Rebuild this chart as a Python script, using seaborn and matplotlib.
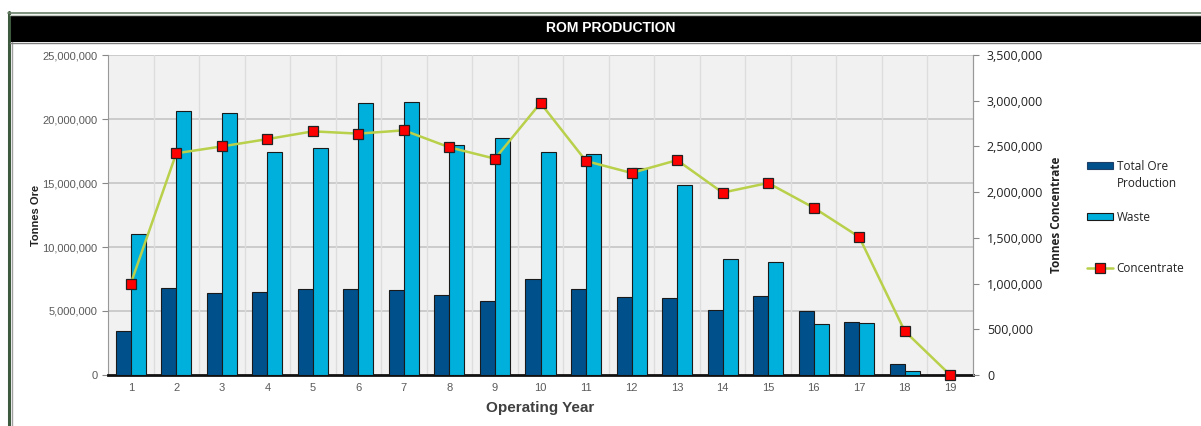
import numpy as np
import pandas as pd
import matplotlib
matplotlib.use("Agg")
import matplotlib.pyplot as plt
import seaborn as sns
from matplotlib.patches import Rectangle, Patch
from matplotlib.lines import Line2D
from matplotlib.ticker import FuncFormatter, FixedLocator, MultipleLocator

years = [str(i) for i in range(1, 20)]
ore = [3.46e6, 6.82e6, 6.41e6, 6.48e6, 6.69e6, 6.69e6, 6.61e6, 6.28e6, 5.78e6, 7.50e6,
       6.69e6, 6.07e6, 5.99e6, 5.10e6, 6.15e6, 4.97e6, 4.17e6, 0.83e6, 0.0]
waste = [11.0e6, 20.6e6, 20.5e6, 17.4e6, 17.7e6, 21.25e6, 21.3e6, 18.0e6, 18.5e6, 17.4e6,
         17.24e6, 16.15e6, 14.84e6, 9.06e6, 8.8e6, 4.0e6, 4.06e6, 0.29e6, 0.0]
concentrate = [1.00e6, 2.425e6, 2.50e6, 2.58e6, 2.665e6, 2.64e6, 2.676e6, 2.49e6, 2.366e6, 2.975e6,
               2.34e6, 2.21e6, 2.35e6, 1.995e6, 2.10e6, 1.83e6, 1.51e6, 0.48e6, 0.0]
series_names = ["Total Ore Production", "Waste"]
legend_labels = ["Total Ore", "Waste", "Concentrate"]
legend_label_cont = "Production"

ORE_C = "#00508C"
WASTE_C = "#00B0DC"
LINE_C = "#B8D04A"

sns.set_style("white")
plt.rcParams["font.family"] = ["Liberation Sans", "DejaVu Sans"]
LEG_FONT = ["Open Sans", "DejaVu Sans"]

W, H = 1201, 426
fig = plt.figure(figsize=(W / 100, H / 100), dpi=100)
ax = fig.add_axes([108 / W, 1 - 375 / H, 865 / W, 320 / H])
ax.set_facecolor("#F1F1F1")

df = pd.DataFrame({
    "Year": years * 2,
    "Tonnes": ore + waste,
    "Series": [series_names[0]] * len(years) + [series_names[1]] * len(years),
})
sns.barplot(data=df, x="Year", y="Tonnes", hue="Series", order=years,
            hue_order=series_names, palette=[ORE_C, WASTE_C], width=0.66,
            gap=0, edgecolor="#1a1a1a", linewidth=0.8, saturation=1,
            legend=False, ax=ax, zorder=3)

ax.set_xlim(-0.5, 18.5)
ax.set_ylim(0, 25e6)
ax.yaxis.set_major_locator(MultipleLocator(5e6))
ax.yaxis.set_major_formatter(FuncFormatter(lambda v, p: f"{v:,.0f}"))
ax.xaxis.set_minor_locator(FixedLocator(np.arange(-0.5, 19, 1.0)))
ax.grid(False)
for yv in np.arange(5e6, 26e6, 5e6):
    ax.axhline(yv, color="#CBCBCB", lw=1.4, zorder=1)
for xv in np.arange(0.5, 18.5, 1.0):
    ax.axvline(xv, color="#DDDDDD", lw=1.0, zorder=1)

ax.tick_params(axis="x", which="major", length=0, labelsize=8, colors="#5A5A5A", pad=6)
ax.tick_params(axis="x", which="minor", length=4, width=1.2, color="#222222", direction="out")
ax.tick_params(axis="y", which="major", length=4, width=0.8, color="#888888",
               labelsize=8, labelcolor="#5A5A5A", direction="out", left=True)
ax.spines["top"].set_visible(False)
ax.spines["left"].set_color("#999999")
ax.spines["left"].set_linewidth(0.8)
ax.spines["right"].set_color("#999999")
ax.spines["right"].set_linewidth(0.8)
ax.spines["bottom"].set_color("#111111")
ax.spines["bottom"].set_linewidth(2.0)

ax.set_xlabel("Operating Year", fontsize=11, fontweight="bold", color="#404040")
ax.xaxis.set_label_coords(0.5, -0.082)
ax.set_ylabel("Tonnes Ore", fontsize=8, fontweight="bold", color="#222222")
ax.yaxis.set_label_coords(-0.078, 0.5)

ax2 = ax.twinx()
sns.lineplot(x=np.arange(len(years)), y=concentrate, ax=ax2, color=LINE_C, lw=1.8,
             marker="s", markersize=7.5, markerfacecolor="#FF0000",
             markeredgecolor="#222222", markeredgewidth=0.9, zorder=5, clip_on=False)
ax2.set_xlim(-0.5, 18.5)
ax2.set_ylim(0, 3.5e6)
ax2.yaxis.set_major_locator(MultipleLocator(5e5))
ax2.yaxis.set_major_formatter(FuncFormatter(lambda v, p: f"{v:,.0f}"))
ax2.tick_params(axis="y", which="major", length=4, width=0.8, color="#888888",
                labelsize=9, labelcolor="#222222", direction="out", right=True, pad=6)
for lab in ax2.get_yticklabels():
    lab.set_fontfamily(LEG_FONT)
for s in ["top", "left", "bottom"]:
    ax2.spines[s].set_visible(False)
ax2.spines["right"].set_color("#999999")
ax2.spines["right"].set_linewidth(0.8)
ax2.set_ylabel("Tonnes Concentrate", fontsize=8.5, fontweight="bold", color="#222222",
               fontfamily=LEG_FONT)
ax2.yaxis.set_label_coords(1.089, 0.5)

handles = [
    Patch(facecolor=ORE_C, edgecolor="#1F3F66", linewidth=0.8),
    Patch(facecolor=WASTE_C, edgecolor="#1a1a1a", linewidth=0.8),
    Line2D([0], [0], color=LINE_C, lw=1.8, marker="s", markersize=7.5,
           markerfacecolor="#FF0000", markeredgecolor="#222222", markeredgewidth=0.9),
]
leg = fig.legend(handles, legend_labels, loc="center left",
                 bbox_to_anchor=(1087 / W, 1 - 217.5 / H),
                 frameon=False, handlelength=2.2, handleheight=0.55,
                 handletextpad=0.3, labelspacing=3.22, borderpad=0, borderaxespad=0,
                 prop={"family": LEG_FONT, "size": 8.5})
for t in leg.get_texts():
    t.set_color("#222222")
fig.canvas.draw()
bb = leg.get_texts()[0].get_window_extent()
fig.text(bb.x0 / W, 1 - 183.5 / H, legend_label_cont, fontsize=8.5, fontfamily=LEG_FONT,
         ha="left", va="center", color="#222222")

# title bar and frame
fig.patches.append(Rectangle((10 / W, 1 - 41.5 / H), 1 - 10 / W, 26 / H,
                             transform=fig.transFigure, facecolor="black", edgecolor="none", zorder=0))
fig.text(611 / W, 1 - 28.5 / H, "ROM PRODUCTION", color="white", fontsize=10,
         fontweight="bold", ha="center", va="center")
fig.lines.append(Line2D([8.5 / W, 8.5 / W], [0, 1 - 12 / H], transform=fig.transFigure,
                        color="#3E5A3E", lw=2.2))
fig.lines.append(Line2D([11.8 / W, 11.8 / W], [0, 1 - 42 / H], transform=fig.transFigure,
                        color="#A0A0A0", lw=1.0))
fig.lines.append(Line2D([8 / W, 1], [1 - 12.5 / H, 1 - 12.5 / H], transform=fig.transFigure,
                        color="#6A806A", lw=1.2))
fig.lines.append(Line2D([10 / W, 1], [1 - 14.5 / H, 1 - 14.5 / H], transform=fig.transFigure,
                        color="#C0C8C0", lw=1.0))
fig.lines.append(Line2D([10 / W, 1], [1 - 42.5 / H, 1 - 42.5 / H], transform=fig.transFigure,
                        color="#808080", lw=1.0))

fig.savefig("out.png", dpi=100)
